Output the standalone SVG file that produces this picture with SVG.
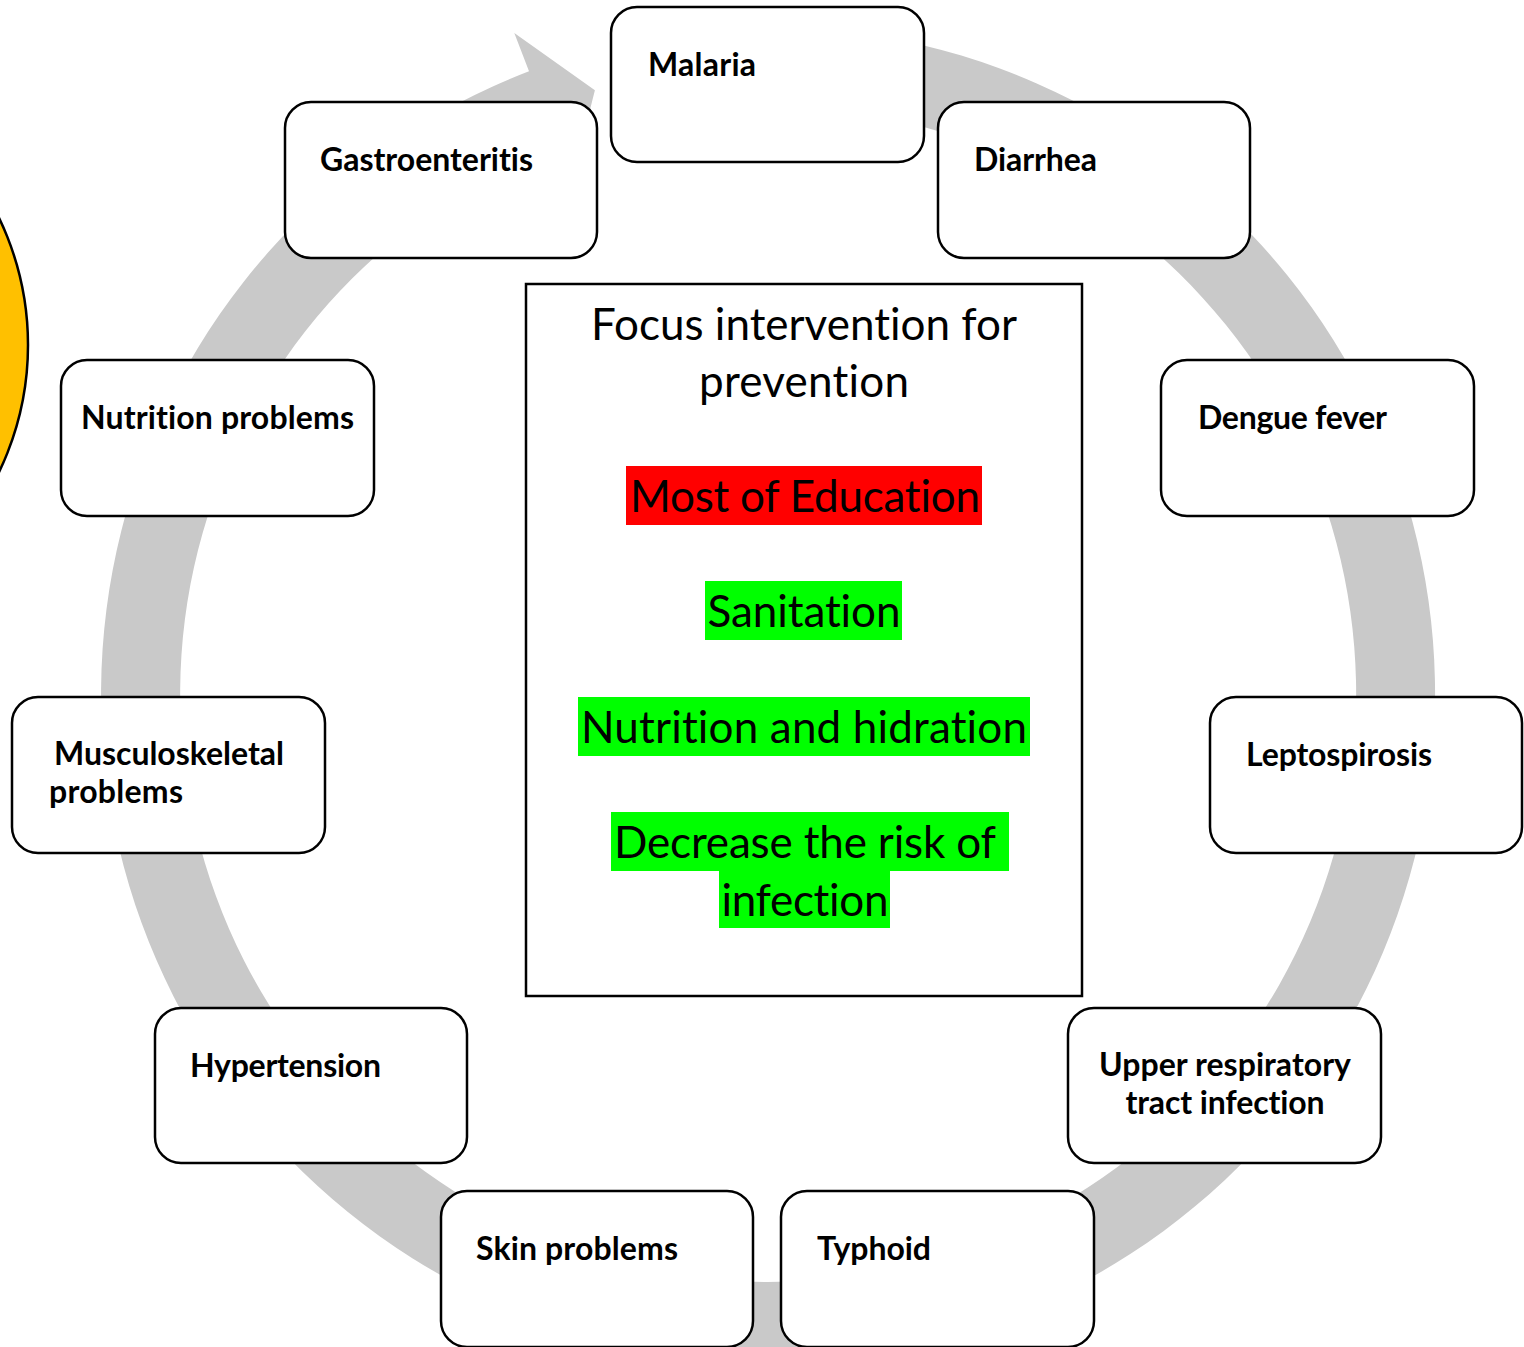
<svg xmlns="http://www.w3.org/2000/svg" width="1524" height="1347" viewBox="0 0 1524 1347">
<style>
.node rect{fill:#fff;stroke:#000;stroke-width:2.5}
.lbl{font-family:Lato,"Open Sans",sans-serif;font-weight:bold;font-size:32px;fill:#000;font-variant-ligatures:none}
.ctr{font-family:Lato,"Open Sans",sans-serif;font-size:44px;fill:#000;text-anchor:middle;font-variant-ligatures:none}
</style>
<rect width="1524" height="1347" fill="#fff"/>
<circle cx="-265" cy="345" r="293" fill="#FFC000" stroke="#000" stroke-width="2.5"/>
<g id="connectors">
<path d="M 883.8 37.1 A 667 667 0 1 1 529.0 71.3 L 514.3 33.0 L 594.9 90.3 L 571.6 182.4 L 557.3 145.1 A 588 588 0 1 0 870.1 114.9 Z" fill="#C9C9C9"/>
</g>
<g id="malaria" class="node"><rect x="611" y="7" width="313" height="155" rx="26"/><text class="lbl" x="648" y="76" textLength="108">Malaria</text></g>
<g id="diarrhea" class="node"><rect x="938" y="102" width="312" height="156" rx="26"/><text class="lbl" x="974" y="171" textLength="123">Diarrhea</text></g>
<g id="dengue" class="node"><rect x="1161" y="360" width="313" height="156" rx="26"/><text class="lbl" x="1198" y="429" textLength="189">Dengue fever</text></g>
<g id="leptospirosis" class="node"><rect x="1210" y="697" width="312" height="156" rx="26"/><text class="lbl" x="1246" y="766" textLength="186">Leptospirosis</text></g>
<g id="urti" class="node"><rect x="1068" y="1008" width="313" height="155" rx="26"/><text class="lbl" x="1225" y="1076" text-anchor="middle" textLength="252">Upper respiratory</text><text class="lbl" x="1225" y="1114" text-anchor="middle" textLength="199">tract infection</text></g>
<g id="typhoid" class="node"><rect x="781" y="1191" width="313" height="156" rx="26"/><text class="lbl" x="817" y="1260" textLength="114">Typhoid</text></g>
<g id="skin" class="node"><rect x="441" y="1191" width="312" height="156" rx="26"/><text class="lbl" x="476" y="1260" textLength="202">Skin problems</text></g>
<g id="hypertension" class="node"><rect x="155" y="1008" width="312" height="155" rx="26"/><text class="lbl" x="190" y="1077" textLength="191">Hypertension</text></g>
<g id="musculoskeletal" class="node"><rect x="12" y="697" width="313" height="156" rx="26"/><text class="lbl" x="54" y="765" textLength="230">Musculoskeletal</text><text class="lbl" x="49" y="803" textLength="134">problems</text></g>
<g id="nutrition" class="node"><rect x="61" y="360" width="313" height="156" rx="26"/><text class="lbl" x="81" y="429" textLength="273">Nutrition problems</text></g>
<g id="gastro" class="node"><rect x="285" y="102" width="312" height="156" rx="26"/><text class="lbl" x="320" y="171" textLength="213">Gastroenteritis</text></g>
<g id="focus">
<rect x="526" y="284" width="556" height="712" fill="#fff" stroke="#000" stroke-width="2.5"/>
<rect x="626" y="466" width="356" height="59" fill="#FF0000"/>
<rect x="705" y="581" width="197" height="59" fill="#00FF00"/>
<rect x="578" y="697" width="452" height="59" fill="#00FF00"/>
<rect x="611" y="812" width="398" height="59" fill="#00FF00"/>
<rect x="719" y="871" width="171" height="57" fill="#00FF00"/>
<text class="ctr" x="804" y="340" textLength="426">Focus intervention for</text>
<text class="ctr" x="804" y="397" textLength="210">prevention</text>
<text class="ctr" x="805" y="512" textLength="350">Most of Education</text>
<text class="ctr" x="804" y="627" textLength="193">Sanitation</text>
<text class="ctr" x="804" y="743" textLength="446">Nutrition and hidration</text>
<text class="ctr" x="805" y="858" textLength="382">Decrease the risk of</text>
<text class="ctr" x="805" y="916" textLength="167">infection</text>
</g>
</svg>
